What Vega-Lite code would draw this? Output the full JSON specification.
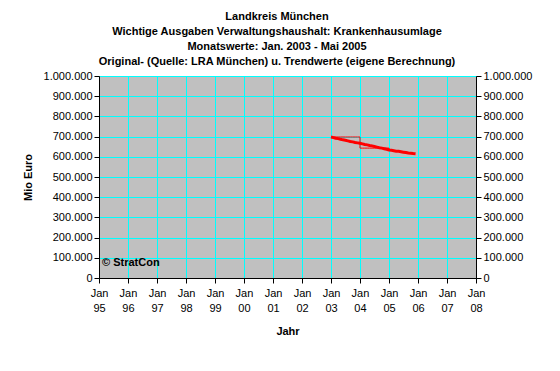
{
  "$schema": "https://vega.github.io/schema/vega-lite/v6.json",
  "width": 377,
  "height": 202,
  "padding": {"left": 22, "top": 11, "right": 10, "bottom": 10},
  "background": "white",
  "config": {
    "font": "Liberation Sans",
    "locale": {"number": {"decimal": ",", "thousands": ".", "grouping": [3], "currency": ["", " €"]}},
    "view": {"fill": "#C0C0C0", "stroke": "#808080", "strokeWidth": 1},
    "axis": {"labelFont": "Liberation Sans", "labelFontSize": 11, "labelColor": "black", "titleFont": "Liberation Sans", "titleFontSize": 11, "titleFontWeight": "bold", "titleColor": "black", "domainColor": "black", "tickColor": "black", "gridColor": "#00FFFF", "gridOpacity": 1, "gridWidth": 1, "tickSize": 5}
  },
  "title": {
    "text": ["Landkreis München", "Wichtige Ausgaben Verwaltungshaushalt: Krankenhausumlage", "Monatswerte: Jan. 2003 - Mai 2005", "Original- (Quelle: LRA München) u. Trendwerte (eigene Berechnung)"],
    "anchor": "middle",
    "frame": "bounds",
    "font": "Liberation Sans",
    "fontSize": 11,
    "fontWeight": "bold",
    "lineHeight": 15,
    "color": "black",
    "offset": 3
  },
  "datasets": {
    "original": [
      {"date": "2003-01-01", "value": 698000}, {"date": "2003-02-01", "value": 698000}, {"date": "2003-03-01", "value": 698000},
      {"date": "2003-04-01", "value": 698000}, {"date": "2003-05-01", "value": 698000}, {"date": "2003-06-01", "value": 698000},
      {"date": "2003-07-01", "value": 698000}, {"date": "2003-08-01", "value": 698000}, {"date": "2003-09-01", "value": 698000},
      {"date": "2003-10-01", "value": 698000}, {"date": "2003-11-01", "value": 698000}, {"date": "2003-12-01", "value": 698000},
      {"date": "2004-01-01", "value": 643000}, {"date": "2004-02-01", "value": 643000}, {"date": "2004-03-01", "value": 643000},
      {"date": "2004-04-01", "value": 643000}, {"date": "2004-05-01", "value": 643000}, {"date": "2004-06-01", "value": 643000},
      {"date": "2004-07-01", "value": 643000}, {"date": "2004-08-01", "value": 643000}, {"date": "2004-09-01", "value": 643000},
      {"date": "2004-10-01", "value": 643000}, {"date": "2004-11-01", "value": 643000}, {"date": "2004-12-01", "value": 643000},
      {"date": "2005-01-01", "value": 634000}, {"date": "2005-02-01", "value": 632000}, {"date": "2005-03-01", "value": 630000},
      {"date": "2005-04-01", "value": 628000}, {"date": "2005-05-01", "value": 627000}
    ],
    "trend": [
      {"date": "2003-01-01", "value": 698000}, {"date": "2003-02-01", "value": 695000}, {"date": "2003-03-01", "value": 692000},
      {"date": "2003-04-01", "value": 690000}, {"date": "2003-05-01", "value": 687000}, {"date": "2003-06-01", "value": 684000},
      {"date": "2003-07-01", "value": 682000}, {"date": "2003-08-01", "value": 679000}, {"date": "2003-09-01", "value": 676000},
      {"date": "2003-10-01", "value": 674000}, {"date": "2003-11-01", "value": 671000}, {"date": "2003-12-01", "value": 669000},
      {"date": "2004-01-01", "value": 667000}, {"date": "2004-02-01", "value": 664000}, {"date": "2004-03-01", "value": 661000},
      {"date": "2004-04-01", "value": 659000}, {"date": "2004-05-01", "value": 656000}, {"date": "2004-06-01", "value": 654000},
      {"date": "2004-07-01", "value": 651000}, {"date": "2004-08-01", "value": 648000}, {"date": "2004-09-01", "value": 645000},
      {"date": "2004-10-01", "value": 643000}, {"date": "2004-11-01", "value": 640000}, {"date": "2004-12-01", "value": 637000},
      {"date": "2005-01-01", "value": 634000}, {"date": "2005-02-01", "value": 632000}, {"date": "2005-03-01", "value": 630000},
      {"date": "2005-04-01", "value": 628000}, {"date": "2005-05-01", "value": 627000}, {"date": "2005-06-01", "value": 625000},
      {"date": "2005-07-01", "value": 623000}, {"date": "2005-08-01", "value": 621000}, {"date": "2005-09-01", "value": 619000},
      {"date": "2005-10-01", "value": 618000}, {"date": "2005-11-01", "value": 616000}, {"date": "2005-12-01", "value": 615000}
    ],
    "note": [{"date": "1995-01-01", "value": 75000, "label": "© StratCon"}]
  },
  "resolve": {"axis": {"y": "independent"}},
  "encoding": {
    "x": {"field": "date", "type": "temporal",
      "scale": {"domain": [{"year": 1995, "month": 1, "date": 1}, {"year": 2008, "month": 1, "date": 1}], "nice": false},
      "axis": {"title": "Jahr",
        "values": [{"year": 1995, "month": 1, "date": 1}, {"year": 1996, "month": 1, "date": 1}, {"year": 1997, "month": 1, "date": 1}, {"year": 1998, "month": 1, "date": 1}, {"year": 1999, "month": 1, "date": 1}, {"year": 2000, "month": 1, "date": 1}, {"year": 2001, "month": 1, "date": 1}, {"year": 2002, "month": 1, "date": 1}, {"year": 2003, "month": 1, "date": 1}, {"year": 2004, "month": 1, "date": 1}, {"year": 2005, "month": 1, "date": 1}, {"year": 2006, "month": 1, "date": 1}, {"year": 2007, "month": 1, "date": 1}, {"year": 2008, "month": 1, "date": 1}],
        "labelExpr": "['Jan', timeFormat(datum.value, '%y')]", "labelAlign": "center", "labelFlush": false, "labelOverlap": false, "labelPadding": 4, "titlePadding": 12, "grid": true, "labelLineHeight": 15, "labelBaseline": "top"}}
  },
  "layer": [
    {
      "data": {"name": "trend"},
      "mark": {"type": "line", "color": "#FF0000", "strokeWidth": 3, "interpolate": "linear"},
      "encoding": {
        "y": {"field": "value", "type": "quantitative",
          "scale": {"domain": [0, 1000000], "nice": false},
          "axis": {"orient": "left", "title": "Mio Euro", "values": [0,100000,200000,300000,400000,500000,600000,700000,800000,900000,1000000], "format": ",d", "grid": true, "labelPadding": 2, "titlePadding": 10}}
      }
    },
    {
      "data": {"name": "original"},
      "mark": {"type": "line", "color": "#FF0000", "strokeWidth": 1, "interpolate": "step-after"},
      "encoding": {
        "y": {"field": "value", "type": "quantitative",
          "axis": {"orient": "right", "title": null, "values": [0,100000,200000,300000,400000,500000,600000,700000,800000,900000,1000000], "format": ",d", "grid": false, "labelPadding": 2}}
      }
    },
    {
      "data": {"name": "note"},
      "mark": {"type": "text", "align": "left", "baseline": "middle", "dx": 3, "font": "Liberation Sans", "fontSize": 11, "fontWeight": "bold", "color": "black"},
      "encoding": {
        "y": {"field": "value", "type": "quantitative", "axis": null},
        "text": {"field": "label"}
      }
    }
  ]
}
